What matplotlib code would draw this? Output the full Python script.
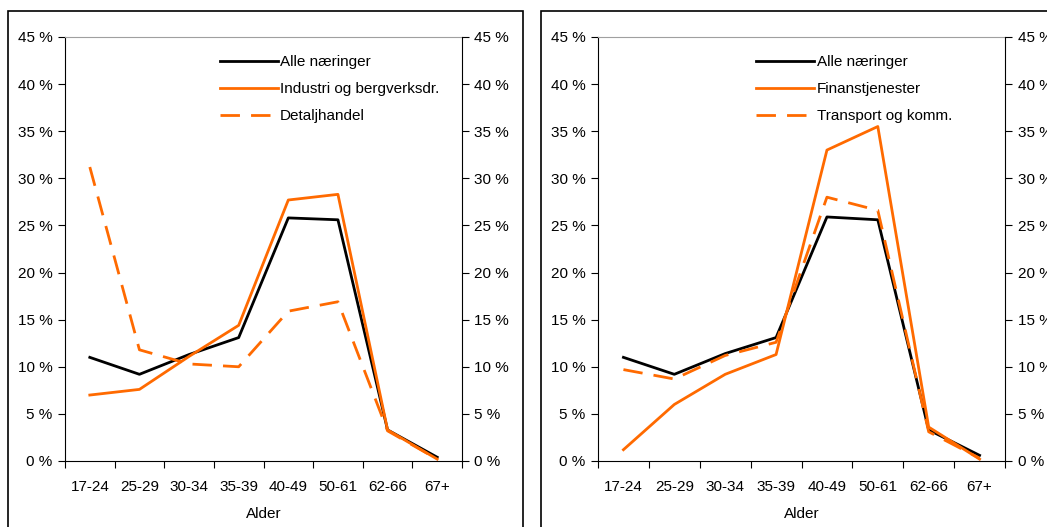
import matplotlib.pyplot as plt
import numpy as np
from matplotlib.patches import Rectangle
from matplotlib.ticker import FuncFormatter

plt.rcParams['font.family'] = ['Liberation Sans', 'DejaVu Sans']

ages = ['17-24', '25-29', '30-34', '35-39', '40-49', '50-61', '62-66', '67+']

alle_left = [11.0, 9.2, 11.3, 13.1, 25.8, 25.6, 3.3, 0.4]
industri = [7.0, 7.6, 11.1, 14.4, 27.7, 28.3, 3.3, 0.2]
detaljhandel = [31.2, 11.8, 10.3, 10.0, 15.9, 16.9, 3.2, 0.2]

alle_right = [11.0, 9.2, 11.4, 13.1, 25.9, 25.6, 3.3, 0.6]
finans = [1.2, 6.0, 9.2, 11.3, 33.0, 35.5, 3.6, 0.2]
transport = [9.7, 8.7, 11.2, 12.6, 28.0, 26.6, 3.1, 0.3]

ORANGE = '#ff6a00'
W, H = 1047, 527
FS = 11

fig = plt.figure(figsize=(W / 100, H / 100), dpi=100)

# panel frames
fig.patches.append(Rectangle((8 / W, -0.05), 515 / W, 1.05 - 11 / H, transform=fig.transFigure,
                             fill=False, edgecolor='black', linewidth=1.2))
fig.patches.append(Rectangle((541 / W, -0.05), 520 / W, 1.05 - 11 / H, transform=fig.transFigure,
                             fill=False, edgecolor='black', linewidth=1.2))

pct = FuncFormatter(lambda v, p: f'{v:.0f} %')


def panel(x0, x1, series):
    ax = fig.add_axes([x0 / W, (H - 461) / H, (x1 - x0) / W, 424 / H])
    x = np.arange(len(ages))
    for vals, color, ls, label in series:
        ax.plot(x, vals, color=color, linestyle=ls, linewidth=2.0, label=label)
    ax.set_xlim(-0.5, len(ages) - 0.5)
    ax.set_ylim(0, 45)
    ax.set_yticks(np.arange(0, 46, 5))
    ax.yaxis.set_major_formatter(pct)
    ax.set_xticks(np.arange(len(ages) + 1) - 0.5)
    ax.set_xticklabels([])
    ax.set_xticks(x, minor=True)
    ax.set_xticklabels(ages, minor=True)
    ax.tick_params(axis='x', which='minor', length=0, pad=14, labelsize=FS)
    ax.tick_params(axis='x', which='major', length=5, direction='out')
    ax.tick_params(axis='y', length=5, direction='out', labelsize=FS, pad=4)
    ax.spines['top'].set_color('#a0a0a0')
    ax.spines['right'].set_visible(False)
    ax.set_xlabel('Alder', fontsize=FS, labelpad=9)
    ax2 = ax.twinx()
    ax2.set_ylim(0, 45)
    ax2.set_yticks(np.arange(0, 46, 5))
    ax2.yaxis.set_major_formatter(pct)
    ax2.tick_params(axis='y', length=5, direction='out', labelsize=FS, pad=4)
    ax2.spines['top'].set_visible(False)
    ax2.spines['left'].set_visible(False)
    ax2.spines['bottom'].set_visible(False)
    ax.legend(loc='upper left', bbox_to_anchor=(0.355, 0.99), frameon=False, fontsize=FS,
              handlelength=3.8, handletextpad=0.15, labelspacing=0.85)
    return ax


dashed = (0, (7, 4))
panel(65, 462, [
    (alle_left, 'black', '-', 'Alle næringer'),
    (industri, ORANGE, '-', 'Industri og bergverksdr.'),
    (detaljhandel, ORANGE, dashed, 'Detaljhandel'),
])
panel(598, 1005, [
    (alle_right, 'black', '-', 'Alle næringer'),
    (finans, ORANGE, '-', 'Finanstjenester'),
    (transport, ORANGE, dashed, 'Transport og komm.'),
])

fig.savefig('out.png', dpi=100)
